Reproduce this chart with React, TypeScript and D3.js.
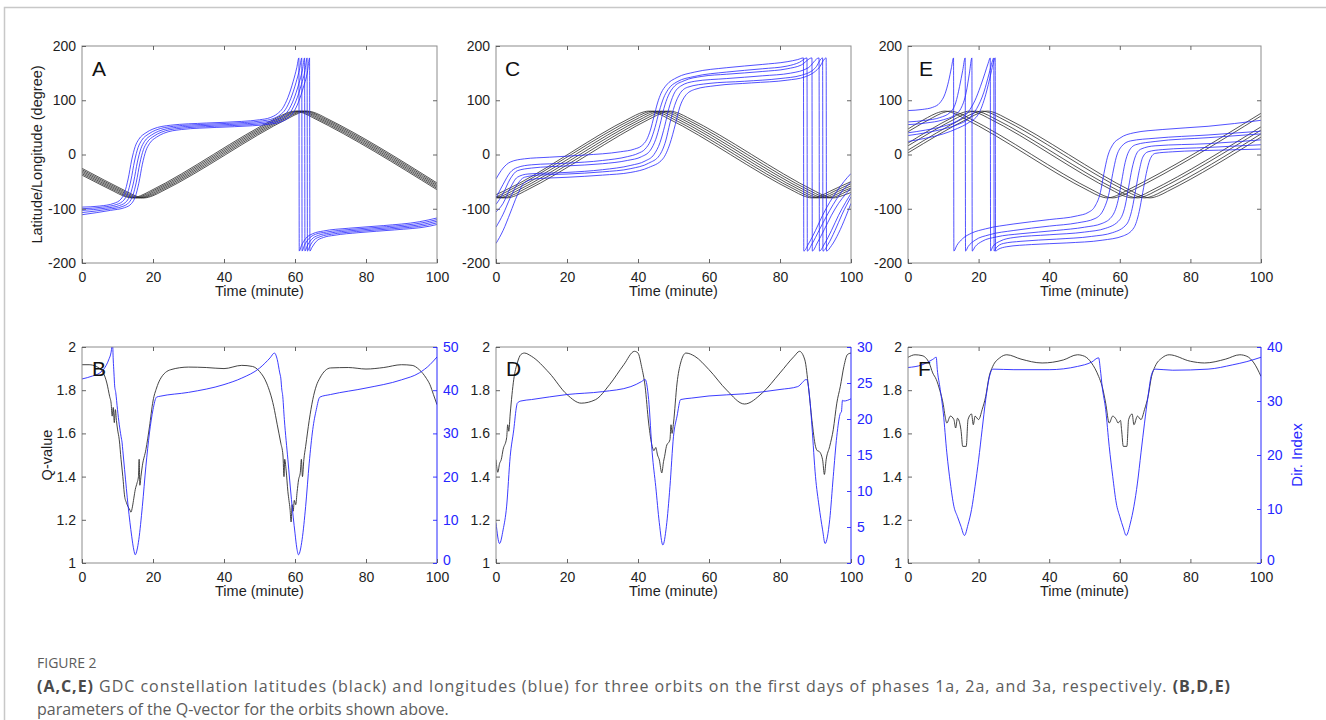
import React, { useEffect, useRef } from "react";
import * as d3 from "d3";

type Pt = [number, number];

// ---- tick values ----
const timeTicks = [0, 20, 40, 60, 80, 100];
const degTicks = [-200, -100, 0, 100, 200];
const qTicks = [1, 1.2, 1.4, 1.6, 1.8, 2];
const dirTicksB = [0, 10, 20, 30, 40, 50];
const dirTicksD = [0, 5, 10, 15, 20, 25, 30];
const dirTicksF = [0, 10, 20, 30, 40];

// ---- panel A: latitudes (black) / longitudes (blue) ----
const latA: Pt[][] = [
  [[0,-38],[9,-68],[11.5,-76],[14,-80],[16.5,-76],[19,-68],[55,68],[57.5,76],[60,80],[62.5,76],[65,68],[100,-65]],
  [[0,-35.5],[9.7,-68],[12.2,-76],[14.7,-80],[17.2,-76],[19.7,-68],[55.7,68],[58.2,76],[60.7,80],[63.2,76],[65.7,68],[100,-62.5]],
  [[0,-33],[10.4,-68],[12.9,-76],[15.4,-80],[17.9,-76],[20.4,-68],[56.4,68],[58.9,76],[61.4,80],[63.9,76],[66.4,68],[100,-60]],
  [[0,-30.5],[11.1,-68],[13.6,-76],[16.1,-80],[18.6,-76],[21.1,-68],[57.1,68],[59.6,76],[62.1,80],[64.6,76],[67.1,68],[100,-57.5]],
  [[0,-28],[11.8,-68],[14.3,-76],[16.8,-80],[19.3,-76],[21.8,-68],[57.8,68],[60.3,76],[62.8,80],[65.3,76],[67.8,68],[100,-55]],
  [[0,-25.5],[12.5,-68],[15,-76],[17.5,-80],[20,-76],[22.5,-68],[58.5,68],[61,76],[63.5,80],[66,76],[68.5,68],[100,-52.5]],
];

const lonA: Pt[][] = [
  [[0,-97],[5,-95],[9,-90],[11,-82],[12,-70],[13,-45],[14,-10],[15,15],[16,28],[18,40],[20,47],[25,54],[35,58],[45,61],[50,64],[53,68],[55,75],[56.5,85],[58,105],[59.5,135],[60.5,160],[61.1,178],[61.2,-178],[61.8,-168],[63,-155],[65,-146],[68,-141],[75,-136],[85,-131],[95,-124],[100,-117]],
  [[0,-100],[5.8,-97],[9.8,-92],[11.8,-84],[12.8,-72],[13.8,-47],[14.8,-12],[15.8,13],[16.8,26],[18.8,38],[20.8,45],[25.8,52],[35.8,56],[45.8,59],[50.8,62],[53.8,66],[55.8,73],[57.3,83],[58.8,103],[60.3,133],[61.3,158],[61.9,178],[62,-178],[62.6,-168],[63.8,-156],[65.8,-147],[68.8,-143],[75.8,-138],[85.8,-133],[95.8,-126],[100,-120]],
  [[0,-103],[6.6,-99],[10.6,-94],[12.6,-86],[13.6,-74],[14.6,-49],[15.6,-14],[16.6,11],[17.6,24],[19.6,36],[21.6,43],[26.6,50],[36.6,54],[46.6,57],[51.6,60],[54.6,64],[56.6,71],[58.1,81],[59.6,101],[61.1,131],[62.1,156],[62.7,178],[62.8,-178],[63.4,-169],[64.6,-157],[66.6,-149],[69.6,-145],[76.6,-140],[86.6,-135],[96.6,-128],[100,-123]],
  [[0,-107],[7.3,-101],[11.3,-96],[13.3,-88],[14.3,-76],[15.3,-51],[16.3,-16],[17.3,9],[18.3,22],[20.3,34],[22.3,41],[27.3,48],[37.3,52],[47.3,55],[52.3,58],[55.3,62],[57.3,69],[58.8,79],[60.3,99],[61.8,129],[62.8,154],[63.4,178],[63.5,-178],[64.1,-170],[65.3,-158],[67.3,-151],[70.3,-147],[77.3,-142],[87.3,-137],[97.3,-130],[100,-126]],
  [[0,-111],[8,-103],[12,-98],[14,-90],[15,-78],[16,-53],[17,-18],[18,7],[19,20],[21,32],[23,39],[28,46],[38,50],[48,53],[53,56],[56,60],[58,67],[59.5,77],[61,97],[62.5,127],[63.5,152],[64.1,178],[64.2,-178],[64.8,-171],[66,-160],[68,-153],[71,-149],[78,-144],[88,-139],[98,-132],[100,-129]],
];

// ---- panel C ----
const latC: Pt[][] = [
  [[0,-74],[2,-68],[38,68],[40.5,76],[43,80],[45.5,76],[48,68],[84,-68],[86.5,-76],[89,-80],[91.5,-76],[94,-68],[100,-50]],
  [[0,-78],[0.7,-76],[3.2,-68],[39.2,68],[41.7,76],[44.2,80],[46.7,76],[49.2,68],[85.2,-68],[87.7,-76],[90.2,-80],[92.7,-76],[95.2,-68],[100,-54]],
  [[0,-79.5],[1.9,-76],[4.4,-68],[40.4,68],[42.9,76],[45.4,80],[47.9,76],[50.4,68],[86.4,-68],[88.9,-76],[91.4,-80],[93.9,-76],[96.4,-68],[100,-58]],
  [[0,-80],[0.6,-80],[3.1,-76],[5.6,-68],[41.6,68],[44.1,76],[46.6,80],[49.1,76],[51.6,68],[87.6,-68],[90.1,-76],[92.6,-80],[95.1,-76],[97.6,-68],[100,-62]],
  [[0,-79],[1.8,-80],[4.3,-76],[6.8,-68],[42.8,68],[45.3,76],[47.8,80],[50.3,76],[52.8,68],[88.8,-68],[91.3,-76],[93.8,-80],[96.3,-76],[98.8,-68],[100,-65]],
  [[0,-77.5],[3,-80],[5.5,-76],[8,-68],[44,68],[46.5,76],[49,80],[51.5,76],[54,68],[90,-68],[92.5,-76],[95,-80],[97.5,-76],[100,-70]],
];

const lonC: Pt[][] = [
  [[0,-45],[2,-25],[4,-14],[8,-8],[15,-5],[25,-1],[35,5],[39,10],[41,16],[42.5,28],[43.5,45],[44.5,70],[45.5,95],[46.5,113],[48,128],[51,142],[56,152],[65,160],[75,166],[82,171],[85,175],[86.6,178],[86.7,-178],[88,-165],[90,-140],[92,-112],[94,-88],[96,-68],[98,-50],[100,-35]],
  [[0,-80],[2,-55],[4,-33],[6,-24],[10,-19],[20,-16],[30,-11],[37,-4],[40,2],[42,10],[43.5,25],[44.8,50],[46,80],[47.2,104],[48.5,120],[51,134],[56,144],[65,152],[75,158],[82,163],[85.5,170],[87.6,178],[87.7,-178],[89,-165],[91,-140],[93,-115],[95,-92],[97,-72],[100,-50]],
  [[0,-92],[2,-72],[4,-45],[6,-30],[10,-25],[20,-21],[30,-17],[37,-11],[41,-4],[43.5,8],[45,28],[46.2,55],[47.3,85],[48.5,108],[50,124],[53,136],[58,144],[65,148],[75,153],[82,158],[86,165],[89,178],[89.1,-178],[90.5,-163],[92.5,-138],[94.5,-112],[96.5,-90],[98.5,-73],[100,-62]],
  [[0,-106],[2,-90],[4,-62],[6,-42],[9,-36],[20,-33],[30,-28],[38,-20],[42,-12],[44.5,0],[46.2,22],[47.5,52],[48.7,85],[50,110],[52,126],[56,135],[65,140],[75,145],[83,150],[88,160],[91,178],[91.1,-178],[92.5,-165],[94.5,-140],[96.5,-112],[98.5,-88],[100,-72]],
  [[0,-134],[2,-110],[4,-80],[6,-55],[8,-42],[12,-38],[20,-36],[30,-32],[38,-26],[43,-16],[46,-2],[47.8,25],[49,58],[50.3,90],[51.8,112],[54,124],[60,131],[70,135],[80,140],[86,146],[90,160],[92,178],[92.1,-178],[93.5,-166],[95.5,-140],[97.5,-110],[100,-78]],
  [[0,-164],[2,-140],[4,-108],[6,-75],[8,-52],[11,-45],[20,-42],[30,-38],[38,-33],[43,-24],[47,-8],[49,20],[50.5,55],[51.8,88],[53.3,108],[56,120],[62,127],[72,132],[82,137],[87,143],[91,160],[93,178],[93.1,-178],[94.5,-168],[96.5,-145],[98.5,-115],[100,-90]],
];

// ---- panel E ----
const latE: Pt[][] = [
  [[0,47],[5.5,68],[8,76],[10.5,80],[13,76],[15.5,68],[51.5,-68],[54,-76],[56.5,-80],[59,-76],[61.5,-68],[100,76]],
  [[0,42],[7,68],[9.5,76],[12,80],[14.5,76],[17,68],[53,-68],[55.5,-76],[58,-80],[60.5,-76],[63,-68],[100,71]],
  [[0,21],[12.5,68],[15,76],[17.5,80],[20,76],[22.5,68],[58.5,-68],[61,-76],[63.5,-80],[66,-76],[68.5,-68],[100,51]],
  [[0,16],[14,68],[16.5,76],[19,80],[21.5,76],[24,68],[60,-68],[62.5,-76],[65,-80],[67.5,-76],[70,-68],[100,45]],
  [[0,8],[16,68],[18.5,76],[21,80],[23.5,76],[26,68],[62,-68],[64.5,-76],[67,-80],[69.5,-76],[72,-68],[100,38]],
  [[0,3],[17.5,68],[20,76],[22.5,80],[25,76],[27.5,68],[63.5,-68],[66,-76],[68.5,-80],[71,-76],[73.5,-68],[100,32]],
];

const lonE: Pt[][] = [
  [[0,81],[4,83],[7,87],[9,95],[10.5,112],[11.5,135],[12.3,160],[12.9,178],[13,-178],[13.8,-168],[15.5,-155],[18,-145],[22,-137],[30,-128],[40,-120],[48,-113],[51,-107],[53,-95],[54.5,-70],[55.5,-35],[56.5,-5],[58,18],[60,30],[64,40],[72,46],[85,52],[100,63]],
  [[0,60],[5,63],[9,68],[12,78],[13.5,95],[14.6,125],[15.5,155],[16.2,178],[16.3,-178],[17,-170],[19,-158],[23,-148],[30,-140],[40,-132],[48,-126],[53,-118],[55.5,-100],[57,-70],[58,-35],[59,-5],[60.5,15],[63,25],[70,30],[85,36],[100,43]],
  [[0,55],[5,58],[10,64],[13,72],[15,85],[16.5,115],[17.4,150],[18.1,178],[18.2,-178],[19,-170],[21,-160],[25,-152],[32,-146],[42,-140],[50,-134],[55,-127],[58,-112],[59.5,-85],[60.5,-50],[61.5,-15],[62.5,5],[64.5,18],[70,24],[85,31],[100,38]],
  [[0,40],[5,45],[10,52],[14,62],[17,78],[19,100],[20.5,125],[21.8,150],[22.7,168],[23.3,178],[23.4,-178],[24,-170],[26,-160],[30,-153],[40,-148],[50,-143],[56,-136],[60,-120],[61.5,-95],[62.5,-60],[63.5,-25],[64.5,-2],[66,10],[70,16],[85,20],[100,27]],
  [[0,35],[5,40],[10,47],[14,55],[17,65],[19.5,85],[21.5,115],[23,150],[23.8,170],[24.3,178],[24.4,-178],[25,-172],[27,-164],[32,-160],[42,-156],[52,-151],[58,-144],[62,-128],[63.5,-100],[64.5,-65],[65.5,-30],[66.5,-5],[68,5],[72,9],[85,13],[100,18]],
  [[0,24],[5,30],[10,38],[14,48],[17,58],[20,75],[22,110],[23.5,150],[24.2,170],[24.7,178],[24.8,-178],[25.5,-175],[28,-170],[35,-166],[45,-163],[55,-158],[61,-150],[64,-135],[65.5,-105],[66.5,-70],[67.5,-35],[68.5,-10],[70,2],[75,5],[88,8],[100,10]],
];

// ---- panels B, D, F: Q-value (black, left) and Dir. Index (blue, right) ----
const qB: Pt[] = [[0,1.918],[2,1.918],[4,1.91],[6,1.88],[7,1.833],[7.8,1.77],[8.2,1.74],[8.5,1.68],[8.8,1.72],[9.1,1.65],[9.4,1.71],[9.7,1.66],[10,1.62],[10.5,1.57],[11,1.48],[11.5,1.4],[12,1.31],[12.5,1.28],[13,1.26],[13.5,1.245],[13.8,1.235],[14.2,1.26],[14.6,1.3],[15,1.34],[15.5,1.37],[15.9,1.4],[16.1,1.48],[16.3,1.36],[16.6,1.4],[17,1.45],[18,1.525],[19,1.63],[20,1.75],[21,1.81],[22,1.85],[25,1.895],[30,1.907],[35,1.905],[40,1.9],[45,1.915],[48,1.91],[50,1.887],[52,1.833],[54,1.725],[55,1.64],[56,1.555],[56.6,1.5],[56.9,1.4],[57.1,1.48],[57.5,1.43],[58,1.33],[58.3,1.29],[58.6,1.25],[58.9,1.19],[59.2,1.27],[59.5,1.24],[59.8,1.29],[60.2,1.27],[60.6,1.33],[61,1.385],[61.5,1.42],[61.8,1.48],[62.1,1.4],[62.5,1.48],[63,1.54],[64,1.66],[65,1.756],[66,1.82],[67,1.856],[70,1.903],[75,1.905],[80,1.898],[85,1.905],[90,1.918],[93,1.915],[95,1.895],[97,1.855],[98,1.826],[99,1.78],[100,1.733]];
const dirB: Pt[] = [[0,42.6],[3,43.3],[5,44],[6.5,45.3],[7.5,47],[8.2,48.8],[8.6,51],[8.8,47],[9,44],[9.2,41],[9.5,39.5],[10,35.5],[10.5,32],[11,29.3],[11.3,27.8],[11.5,26],[12,21.6],[13,13.1],[14,6.2],[14.6,3],[15,1.9],[15.5,3],[16,5.4],[17,13.1],[18,22.4],[19,30.1],[20,35.5],[21,38.4],[22,38.6],[30,39.5],[40,41.3],[45,42.8],[50,45.1],[53,47.5],[54.2,48.6],[55,47.1],[55.7,44],[56,42.8],[56.3,40],[56.5,39],[57,33.2],[58,23.9],[59,14.7],[60,6.9],[60.5,3.5],[61,1.9],[61.5,3],[62,5.4],[63,13.1],[64,23.1],[65,30.9],[66,35.5],[67,38.4],[70,39],[80,40.5],[90,42.4],[95,44],[98,45.9],[100,47.7]];

const qD: Pt[] = [[0,1.478],[0.5,1.42],[1,1.46],[1.5,1.48],[2,1.525],[3,1.58],[3.3,1.64],[3.6,1.61],[4,1.69],[5,1.85],[6,1.926],[7,1.965],[8,1.972],[10,1.957],[15,1.88],[20,1.78],[24,1.74],[28,1.756],[32,1.826],[36,1.918],[39,1.98],[40,1.972],[41,1.91],[42,1.818],[43,1.648],[44,1.54],[44.5,1.52],[45,1.535],[45.5,1.5],[46,1.478],[46.7,1.417],[47.2,1.47],[47.5,1.494],[48,1.54],[49,1.571],[49.3,1.64],[49.6,1.6],[50,1.648],[51,1.833],[52,1.926],[53.5,1.972],[56,1.957],[60,1.895],[65,1.8],[70,1.736],[75,1.787],[80,1.88],[84,1.957],[85.5,1.98],[87,1.94],[88,1.818],[89,1.66],[90,1.54],[90.5,1.52],[91,1.517],[92,1.478],[92.5,1.41],[93,1.478],[94,1.54],[95,1.617],[96,1.74],[97,1.818],[98,1.91],[99,1.965],[100,1.972]];
const dirD: Pt[] = [[0,5.6],[1,2.7],[2,4.6],[3,7.9],[4,14.8],[5,18.5],[5.8,21.8],[6,22.2],[7,22.5],[10,22.7],[20,23.4],[30,23.8],[38,24.5],[41,25.2],[42,25.5],[43,22.7],[44,15.3],[45,10.6],[46,5.6],[47,2.5],[48,5.1],[49,10.6],[50,17.6],[51,20.4],[52,22.7],[55,22.9],[60,23.2],[70,23.5],[80,24.1],[85,24.5],[87.5,25.5],[88.5,22.2],[89,19],[90,12],[91,7.9],[92,4.6],[92.7,2.7],[94,6],[95,12],[96,17.6],[97,20.8],[97.3,21],[97.6,22.6],[98,22.5],[100,22.8]];

const qF: Pt[] = [[0,1.952],[2,1.964],[4,1.96],[6,1.926],[7,1.88],[8,1.85],[9,1.8],[10,1.733],[10.5,1.68],[11,1.648],[12,1.68],[13,1.664],[13.5,1.625],[14,1.67],[15,1.617],[15.5,1.54],[16.5,1.54],[17,1.664],[18,1.69],[18.5,1.64],[19,1.68],[20,1.664],[21,1.71],[22,1.77],[23,1.864],[24,1.91],[26,1.95],[28,1.964],[32,1.944],[38,1.926],[44,1.94],[48,1.964],[50,1.957],[52,1.926],[54,1.864],[55,1.818],[56,1.74],[57,1.648],[58,1.68],[59,1.664],[59.5,1.648],[60.2,1.66],[60.5,1.617],[61,1.54],[62,1.54],[62.5,1.664],[63.5,1.69],[64,1.64],[65,1.68],[66,1.664],[67,1.71],[68,1.77],[69,1.864],[70,1.91],[72,1.95],[74,1.964],[80,1.934],[84,1.926],[90,1.944],[94,1.964],[96,1.957],[98,1.926],[100,1.864]];
const dirF: Pt[] = [[0,36.2],[4,36.7],[7,37.7],[8,38.1],[8.3,35.8],[9,32.7],[10,27.8],[11,20.4],[12,14.8],[13,10.5],[14,8.6],[15,6.8],[16,5.1],[17,7.1],[18,9.9],[19,14.2],[20,19.1],[21,24.7],[22,30.2],[23,34.3],[24,35.9],[30,35.8],[40,35.8],[48,36.4],[52,37.2],[54,38],[54.5,35.8],[55,32.7],[56,28.4],[57,21.6],[58,16],[59,11.1],[60,8.6],[61,6.5],[61.8,5.1],[63,7.4],[64,10.5],[65,14.8],[66,20.4],[67,25.9],[68,30.9],[69,34.9],[70,35.9],[75,35.7],[85,35.9],[92,36.7],[96,37.3],[100,38.1]];

const FONT = "'Liberation Sans', Arial, Helvetica, sans-serif";
const CAP_FONT = "'Open Sans', 'Noto Sans', sans-serif";
const BLUE = "#2626ff";
const BOX = "#8c8c8c";
const TXT = "#1e1e1e";
const TICK_FS = 14;

const topPanels = [
  { id: "A", x0: 82, x1: 437, lat: latA, lon: lonA, lx: 92 },
  { id: "C", x0: 496, x1: 851, lat: latC, lon: lonC, lx: 505 },
  { id: "E", x0: 908, x1: 1261, lat: latE, lon: lonE, lx: 919 },
];
const botPanels = [
  { id: "B", x0: 82, x1: 437, q: qB, dir: dirB, dirTicks: dirTicksB, dirMax: 50, lx: 92 },
  { id: "D", x0: 496, x1: 851, q: qD, dir: dirD, dirTicks: dirTicksD, dirMax: 30, lx: 506 },
  { id: "F", x0: 908, x1: 1261, q: qF, dir: dirF, dirTicks: dirTicksF, dirMax: 40, lx: 918 },
];

function styleAxis(sel: any, color: string, textColor: string) {
  sel.select(".domain").remove();
  sel.attr("font-family", FONT).attr("font-size", TICK_FS).attr("color", color);
  sel.selectAll("line").attr("stroke-width", 0.9);
  sel.selectAll("text").attr("fill", textColor);
}

export default function App() {
  const ref = useRef<SVGSVGElement>(null);

  useEffect(() => {
    const svg = d3.select(ref.current);
    svg.selectAll("*").remove();

    // page frame
    svg.append("path").attr("d", "M1326,7.5 H4.5 V720").attr("fill", "none").attr("stroke", "#c8c8c8").attr("stroke-width", 1.5);

    const fmt = (d: any) => String(d);

    const setup = (x0: number, x1: number, y0: number, y1: number, id: string) => {
      const w = x1 - x0, h = y1 - y0;
      const g = svg.append("g").attr("transform", `translate(${x0},${y0})`);
      const x = d3.scaleLinear().domain([0, 100]).range([0, w]);
      g.append("clipPath").attr("id", "clip" + id).append("rect").attr("width", w).attr("height", h);
      const plot = g.append("g").attr("clip-path", `url(#clip${id})`);
      return { g, plot, x, w, h };
    };

    const xAxes = (g: any, x: any, h: number) => {
      const bottom = g.append("g").attr("transform", `translate(0,${h})`)
        .call(d3.axisBottom(x).tickValues(timeTicks).tickFormat(fmt).tickSizeInner(-4).tickSizeOuter(0).tickPadding(9));
      styleAxis(bottom, "#555", TXT);
      const top = g.append("g")
        .call(d3.axisTop(x).tickValues(timeTicks.slice(1, -1)).tickFormat(() => "").tickSizeInner(-4).tickSizeOuter(0));
      styleAxis(top, "#555", TXT);
      g.append("text").attr("x", x.range()[1] / 2).attr("y", h + 33)
        .attr("text-anchor", "middle").attr("font-family", FONT).attr("font-size", 14.5).attr("fill", TXT)
        .text("Time (minute)");
    };

    // ---- top row ----
    topPanels.forEach((p) => {
      const { g, plot, x, w, h } = setup(p.x0, p.x1, 46, 263, p.id);
      const y = d3.scaleLinear().domain([-200, 200]).range([h, 0]);
      const line = d3.line<Pt>().x((d) => x(d[0])).y((d) => y(d[1])).curve(d3.curveMonotoneX);

      plot.selectAll("path.lat").data(p.lat).join("path").attr("class", "lat")
        .attr("d", (d) => line(d)).attr("fill", "none").attr("stroke", "#2a2a2a").attr("stroke-width", 0.8);
      plot.selectAll("path.lon").data(p.lon).join("path").attr("class", "lon")
        .attr("d", (d) => line(d)).attr("fill", "none").attr("stroke", BLUE).attr("stroke-width", 0.8);

      g.append("rect").attr("width", w).attr("height", h).attr("fill", "none").attr("stroke", BOX).attr("stroke-width", 1);
      xAxes(g, x, h);

      const left = g.append("g")
        .call(d3.axisLeft(y).tickValues(degTicks).tickFormat(fmt).tickSizeInner(-4).tickSizeOuter(0).tickPadding(6));
      styleAxis(left, "#555", TXT);
      const right = g.append("g").attr("transform", `translate(${w},0)`)
        .call(d3.axisRight(y).tickValues(degTicks.slice(1, -1)).tickFormat(() => "").tickSizeInner(-4).tickSizeOuter(0));
      styleAxis(right, "#555", TXT);

      g.append("text").attr("x", p.lx - p.x0).attr("y", 30).attr("font-family", FONT).attr("font-size", 21).attr("fill", "#111").text(p.id);
    });

    // y label, top row
    svg.append("text").attr("transform", "translate(42,154.5) rotate(-90)").attr("text-anchor", "middle")
      .attr("font-family", FONT).attr("font-size", 14.5).attr("fill", TXT).text("Latitude/Longitude (degree)");

    // ---- bottom row ----
    botPanels.forEach((p) => {
      const { g, plot, x, w, h } = setup(p.x0, p.x1, 347, 563, p.id);
      const yq = d3.scaleLinear().domain([1, 2]).range([h, 0]);
      const yd = d3.scaleLinear().domain([0, p.dirMax]).range([h, 0]);
      const lq = d3.line<Pt>().x((d) => x(d[0])).y((d) => yq(d[1])).curve(d3.curveMonotoneX);
      const ld = d3.line<Pt>().x((d) => x(d[0])).y((d) => yd(d[1])).curve(d3.curveMonotoneX);

      plot.append("path").attr("d", lq(p.q)).attr("fill", "none").attr("stroke", "#2f2f2f").attr("stroke-width", 0.9);
      plot.append("path").attr("d", ld(p.dir)).attr("fill", "none").attr("stroke", BLUE).attr("stroke-width", 0.9);

      g.append("path").attr("d", `M${w},0 H0 V${h} H${w}`).attr("fill", "none").attr("stroke", BOX).attr("stroke-width", 1);
      g.append("line").attr("x1", w).attr("x2", w).attr("y1", 0).attr("y2", h).attr("stroke", BLUE).attr("stroke-width", 1);
      xAxes(g, x, h);

      const left = g.append("g")
        .call(d3.axisLeft(yq).tickValues(qTicks).tickFormat(fmt).tickSizeInner(-4).tickSizeOuter(0).tickPadding(6));
      styleAxis(left, "#555", TXT);
      const right = g.append("g").attr("transform", `translate(${w},0)`)
        .call(d3.axisRight(yd).tickValues(p.dirTicks).tickFormat(fmt).tickSizeInner(-4).tickSizeOuter(0).tickPadding(6));
      styleAxis(right, BLUE, BLUE);
      // lift the bottom "0" a hair so it does not sit on the "100" below it
      right.selectAll("text").filter((d: any) => d === 0).attr("dy", "0.1em");

      g.append("text").attr("x", p.lx - p.x0).attr("y", 29).attr("font-family", FONT).attr("font-size", 21).attr("fill", "#111").text(p.id);
    });

    svg.append("text").attr("transform", "translate(52,455) rotate(-90)").attr("text-anchor", "middle")
      .attr("font-family", FONT).attr("font-size", 14.5).attr("fill", TXT).text("Q-value");
    svg.append("text").attr("transform", "translate(1302,455) rotate(-90)").attr("text-anchor", "middle")
      .attr("font-family", FONT).attr("font-size", 15).attr("fill", BLUE).text("Dir. Index");

    // ---- caption ----
    const cap = svg.append("g").attr("font-family", CAP_FONT).attr("fill", "#5c5c5c");
    cap.append("text").attr("x", 37).attr("y", 668).attr("font-size", 14).text("FIGURE 2");
    const l1 = cap.append("text").attr("x", 37).attr("y", 692).attr("font-size", 16)
      .attr("textLength", 1193).attr("lengthAdjust", "spacing");
    l1.append("tspan").attr("font-weight", 700).attr("fill", "#4a4a4a").text("(A,C,E)");
    l1.append("tspan").text(" GDC constellation latitudes (black) and longitudes (blue) for three orbits on the first days of phases 1a, 2a, and 3a, respectively. ");
    l1.append("tspan").attr("font-weight", 700).attr("fill", "#4a4a4a").text("(B,D,E)");
    cap.append("text").attr("x", 37).attr("y", 715).attr("font-size", 16).text("parameters of the Q-vector for the orbits shown above.");
  }, []);

  return (
    <svg
      ref={ref}
      width={1326}
      height={720}
      style={{ position: "absolute", left: 0, top: 0, background: "#fff" }}
    />
  );
}
